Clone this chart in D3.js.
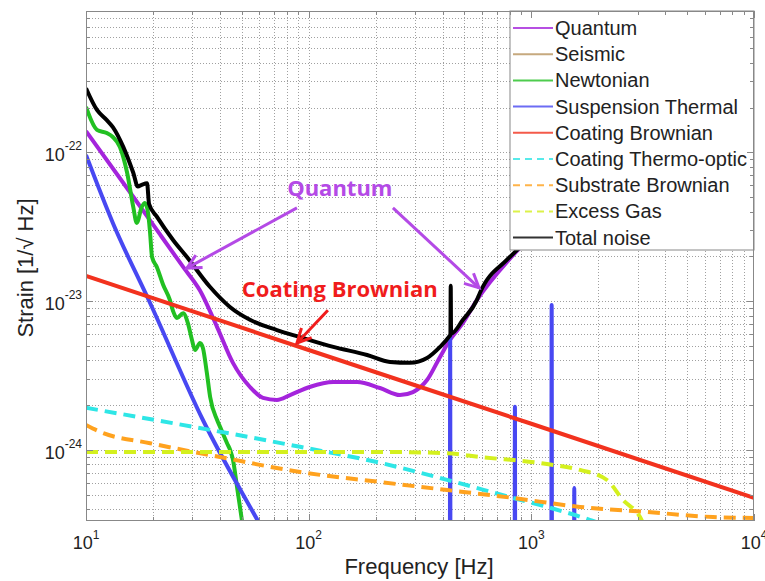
<!DOCTYPE html>
<html>
<head>
<meta charset="utf-8">
<script src="https://d3js.org/d3.v7.min.js"></script>
<style>
  body { margin: 0; background: #fff; }
  text { font-family: "Liberation Sans", Arial, Helvetica, sans-serif; }
</style>
</head>
<body>
<script>
// ---------- data: [frequency Hz, strain 1/sqrt(Hz)] ----------
const quantum = [[10, 1.39e-22], [16.3, 5.04e-23], [21.5, 2.81e-23], [27.3, 1.70e-23], [32.5, 1.18e-23],
  [38.8, 6.7e-24], [45.7, 3.85e-24], [54.5, 2.65e-24], [62.4, 2.24e-24], [72, 2.17e-24], [82.5, 2.34e-24],
  [101, 2.65e-24], [129, 2.86e-24], [165, 2.86e-24], [209, 2.61e-24], [257, 2.34e-24], [294, 2.45e-24],
  [340, 2.95e-24], [389, 4.22e-24], [431, 5.49e-24], [493, 7.14e-24], [570, 1.02e-23], [778, 1.84e-23],
  [889, 2.28e-23], [2000, 5.2e-23], [10000, 2.6e-22]]

const seismic = []   // below the plotted range

const newtonian = [[10, 2.02e-22], [11.2, 1.42e-22], [12.4, 1.35e-22], [13.2, 1.27e-22], [14.2, 1.09e-22],
  [15.3, 7.3e-23], [16.3, 4.3e-23], [16.9, 3.36e-23], [17.8, 4.3e-23], [18.4, 4.58e-23], [19.0, 3.92e-23],
  [19.4, 2.88e-23], [19.8, 1.98e-23], [20.8, 1.7e-23], [22.2, 1.29e-23], [23.8, 1.02e-23], [24.6, 8.6e-24],
  [25.6, 7.7e-24], [27.3, 8.3e-24], [28.7, 7.1e-24], [29.9, 5.5e-24], [30.9, 4.7e-24], [32.5, 5.24e-24],
  [33.5, 4.85e-24], [34.9, 3.29e-24], [36.1, 2.27e-24], [38.8, 1.59e-24], [40, 1.43e-24], [43, 1.11e-24],
  [44.4, 1.0e-24], [45.7, 8.6e-25], [47.7, 5.6e-25], [50.2, 3.33e-25], [53.4, 1.8e-25]]

const suspension = [[10, 9.62e-23], [13.2, 3.36e-23], [19.4, 9.73e-24], [33.5, 1.59e-24], [59.2, 3.33e-25],
  [74.3, 1.82e-25], [420, 1e-26], [430, 1e-26], [432, 5.75e-24], [434, 1e-26], [840, 1e-26], [844, 1.95e-24],
  [848, 1e-26], [1228, 1e-26], [1234, 9.44e-24], [1240, 1e-26], [1552, 1e-26], [1559, 5.55e-25],
  [1566, 1e-26], [10000, 1e-26]]

const coatingBrownian = [[10, 1.48e-23], [100, 4.7e-24], [1000, 1.5e-24], [10000, 4.76e-25]]

const coatingThermoOptic = [[10, 1.92e-24], [91.4, 1.05e-24], [209, 8.2e-25], [418, 6.3e-25], [827, 4.76e-25],
  [1176, 4.14e-25], [1892, 3.33e-25], [3076, 2.48e-25]]

const substrateBrownian = [[10, 1.47e-24], [11.6, 1.32e-24], [19.4, 1.11e-24], [40, 8.97e-25], [91.4, 7.11e-25],
  [209, 6.09e-25], [418, 5.38e-25], [827, 4.76e-25], [1654, 4.14e-25], [3307, 3.83e-25], [6543, 3.54e-25],
  [10000, 3.49e-25]]

const excessGas = [[10, 9.7e-25], [209, 9.7e-25], [418, 9.5e-25], [588, 8.97e-25], [1176, 8.05e-25],
  [1654, 7.34e-25], [2187, 6.28e-25], [2580, 4.61e-25], [3076, 3.54e-25], [3412, 2.48e-25]]

const totalNoise = [[10, 2.7e-22], [11.2, 1.93e-22], [12.4, 1.65e-22], [13.2, 1.48e-22], [14.7, 1.09e-22],
  [16.3, 7.3e-23], [17.1, 5.9e-23], [17.8, 6.05e-23], [18.8, 6.2e-23], [19.2, 4.5e-23], [20.8, 3.7e-23],
  [24.6, 2.58e-23], [28.4, 1.98e-23], [36, 1.25e-23], [44.3, 9.15e-24], [54.5, 7.5e-24], [72, 6.4e-24],
  [91, 5.75e-24], [129, 4.93e-24], [183, 4.35e-24], [232, 3.9e-24], [285, 3.85e-24], [340, 4.15e-24],
  [389, 4.93e-24], [428, 5.8e-24], [433, 5.95e-24], [434.5, 1.27e-23], [436, 6.05e-24], [493, 7.5e-24],
  [570, 1.02e-23], [588, 1.14e-23], [778, 1.9e-23], [889, 2.3e-23], [2000, 5.3e-23], [10000, 2.7e-22]]

const seriesNames = ["Quantum", "Seismic", "Newtonian", "Suspension Thermal", "Coating Brownian",
  "Coating Thermo-optic", "Substrate Brownian", "Excess Gas", "Total noise"]
const seriesData = [quantum, seismic, newtonian, suspension, coatingBrownian,
  coatingThermoOptic, substrateBrownian, excessGas, totalNoise]
const seriesColors = ["#a424dc", "#b8945e", "#22c022", "#4848f2", "#f2321e",
  "#2ee6e6", "#ffa21e", "#d4f01e", "#000000"]
const seriesDashed = [false, false, false, false, false, true, true, true, false]

const xTickExps = [1, 2, 3, 4]
const yTickExps = [-24, -23, -22]

// annotations, in data coordinates
const quantumLabel = [138, 5.1e-23]
const quantumArrows = [[[88.6, 4.24e-23], [28.4, 1.67e-23]], [[239, 4.24e-23], [582, 1.23e-23]]]
const coatingLabel = [138, 1.07e-23]
const coatingArrow = [[122, 8.7e-24], [88.6, 5.24e-24]]

// ---------- layout ----------
const width = 765, height = 581
const pL = 86, pR = 754, pT = 11, pB = 521

const svg = d3.select("body").append("svg")
  .attr("width", width).attr("height", height)

const x = d3.scaleLog().domain([10, 1e4]).range([pL, pR])
const y = d3.scaleLog().domain([3.33e-25, 8.93e-22]).range([pB, pT])

const defs = svg.append("defs")
defs.append("clipPath").attr("id", "clip")
  .append("rect").attr("x", pL).attr("y", pT).attr("width", pR - pL).attr("height", pB - pT)

// grid
const grid = svg.append("g").attr("stroke", "#a0a0a0").attr("stroke-width", 1).attr("stroke-dasharray", "1,2")
x.ticks().filter(t => x(t) > pL + 1 && x(t) < pR - 1).forEach(t => {
  grid.append("line").attr("x1", Math.round(x(t)) + 0.5).attr("x2", Math.round(x(t)) + 0.5)
    .attr("y1", pT).attr("y2", pB)
})
y.ticks().filter(t => y(t) > pT + 1 && y(t) < pB - 1).forEach(t => {
  grid.append("line").attr("y1", Math.round(y(t)) + 0.5).attr("y2", Math.round(y(t)) + 0.5)
    .attr("x1", pL).attr("x2", pR)
})

// curves
const line = d3.line().x(d => x(d[0])).y(d => y(d[1])).curve(d3.curveMonotoneX)
const curves = svg.append("g").attr("clip-path", "url(#clip)")
seriesData.forEach((data, i) => {
  if (!data.length) return
  curves.append("path").datum(data)
    .attr("d", line)
    .attr("fill", "none")
    .attr("stroke", seriesColors[i])
    .attr("stroke-width", 4)
    .attr("stroke-linejoin", "round")
    .attr("stroke-dasharray", seriesDashed[i] ? "12,7" : null)
})

// annotations
function marker(id, color) {
  defs.append("marker").attr("id", id)
    .attr("markerUnits", "userSpaceOnUse").attr("viewBox", "0 0 20 20")
    .attr("refX", 17).attr("refY", 10).attr("markerWidth", 20).attr("markerHeight", 20)
    .attr("orient", "auto")
    .append("path").attr("d", "M3,3 L17,10 L3,17")
    .attr("fill", "none").attr("stroke", color).attr("stroke-width", 3)
}
marker("arrowPurple", "#b44ae6")
marker("arrowRed", "#f01c1c")

quantumArrows.forEach(a => {
  svg.append("line")
    .attr("x1", x(a[0][0])).attr("y1", y(a[0][1]))
    .attr("x2", x(a[1][0])).attr("y2", y(a[1][1]))
    .attr("stroke", "#b44ae6").attr("stroke-width", 3)
    .attr("marker-end", "url(#arrowPurple)")
})
svg.append("line")
  .attr("x1", x(coatingArrow[0][0])).attr("y1", y(coatingArrow[0][1]))
  .attr("x2", x(coatingArrow[1][0])).attr("y2", y(coatingArrow[1][1]))
  .attr("stroke", "#f01c1c").attr("stroke-width", 3)
  .attr("marker-end", "url(#arrowRed)")

svg.append("text").attr("x", x(quantumLabel[0])).attr("y", y(quantumLabel[1]))
  .attr("text-anchor", "middle").style("font-family", "'Open Sans', sans-serif")
  .style("font-weight", "bold").style("font-size", "22px").attr("fill", "#b44ae6")
  .text("Quantum")
svg.append("text").attr("x", x(coatingLabel[0])).attr("y", y(coatingLabel[1]))
  .attr("text-anchor", "middle").style("font-family", "'Open Sans', sans-serif")
  .style("font-weight", "bold").style("font-size", "22px").attr("fill", "#f01c1c")
  .text("Coating Brownian")

// legend
const legX = 510, legY = 11, legW = pR - legX, legH = 239
const legend = svg.append("g")
legend.append("rect").attr("x", legX).attr("y", legY).attr("width", legW).attr("height", legH)
  .attr("fill", "#fff").attr("stroke", "#888")
seriesNames.forEach((name, i) => {
  const cy = 28 + i * 26.2
  legend.append("line").attr("x1", 513).attr("x2", 553).attr("y1", cy).attr("y2", cy)
    .attr("stroke", seriesColors[i]).attr("stroke-width", 2).attr("opacity", 0.8)
    .attr("stroke-dasharray", seriesDashed[i] ? "7,5" : null)
  legend.append("text").attr("x", 555).attr("y", cy + 7)
    .style("font-size", "20px").attr("fill", "#222").text(name)
})

// frame and ticks
const frame = svg.append("g").attr("stroke", "#888").attr("stroke-width", 1)
frame.append("rect").attr("x", pL + 0.5).attr("y", pT + 0.5)
  .attr("width", pR - pL - 1).attr("height", pB - pT - 1).attr("fill", "none")
const isMajor = t => Math.abs(Math.log10(t) - Math.round(Math.log10(t))) < 1e-6
x.ticks().forEach(t => {
  const len = isMajor(t) ? 7 : 4
  const px = Math.round(x(t)) + 0.5
  frame.append("line").attr("x1", px).attr("x2", px).attr("y1", pB).attr("y2", pB - len)
  frame.append("line").attr("x1", px).attr("x2", px).attr("y1", pT).attr("y2", pT + len)
})
y.ticks().forEach(t => {
  const len = isMajor(t) ? 7 : 4
  const py = Math.round(y(t)) + 0.5
  frame.append("line").attr("y1", py).attr("y2", py).attr("x1", pL).attr("x2", pL + len)
  frame.append("line").attr("y1", py).attr("y2", py).attr("x1", pR).attr("x2", pR - len)
})

// tick labels
xTickExps.forEach(e => {
  const t = svg.append("text").attr("x", x(Math.pow(10, e))).attr("y", 549)
    .attr("text-anchor", "middle").attr("fill", "#222").style("font-size", "18px")
  t.append("tspan").text("10")
  t.append("tspan").attr("dy", -10).style("font-size", "12px").text(e)
})
yTickExps.forEach(e => {
  const t = svg.append("text").attr("x", 82).attr("y", y(Math.pow(10, e)) + 9)
    .attr("text-anchor", "end").attr("fill", "#222").style("font-size", "18px")
  t.append("tspan").text("10")
  t.append("tspan").attr("dy", -11).style("font-size", "12px").text("-" + Math.abs(e))
})

// axis labels
svg.append("text").attr("x", 419).attr("y", 574).attr("text-anchor", "middle")
  .attr("fill", "#222").style("font-size", "22px").text("Frequency [Hz]")
svg.append("text").attr("transform", "translate(33,268) rotate(-90)").attr("text-anchor", "middle")
  .attr("fill", "#222").style("font-size", "22px").text("Strain [1/\u221A Hz]")
</script>
</body>
</html>
